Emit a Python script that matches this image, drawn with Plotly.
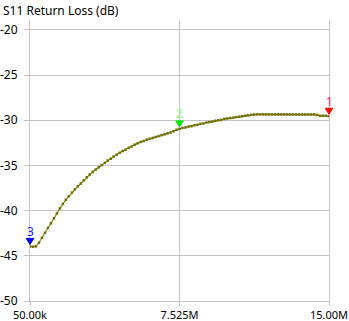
import plotly.graph_objects as go

# Frequency sweep (MHz): 101 points from 0.05 to 15.0
f_start = 0.05
f_stop = 15.0
n_pts = 101
freq = [f_start + i * (f_stop - f_start) / (n_pts - 1) for i in range(n_pts)]

s11_db = [
    -43.96, -44.00, -43.95, -43.55, -43.00, -42.45, -41.90, -41.40, -40.85, -40.30,
    -39.75, -39.25, -38.80, -38.40, -38.00, -37.65, -37.30, -37.00, -36.65, -36.30,
    -36.00, -35.70, -35.45, -35.20, -34.95, -34.70, -34.45, -34.25, -34.00, -33.80,
    -33.60, -33.40, -33.25, -33.05, -32.90, -32.70, -32.55, -32.40, -32.30, -32.15,
    -32.05, -31.95, -31.85, -31.75, -31.65, -31.55, -31.45, -31.35, -31.20, -31.05,
    -30.95, -30.85, -30.80, -30.70, -30.65, -30.55, -30.50, -30.40, -30.35, -30.25,
    -30.20, -30.15, -30.05, -30.00, -29.95, -29.85, -29.80, -29.75, -29.70, -29.65,
    -29.60, -29.55, -29.50, -29.45, -29.40, -29.35, -29.35, -29.35, -29.35, -29.35,
    -29.35, -29.35, -29.35, -29.35, -29.35, -29.35, -29.35, -29.35, -29.35, -29.35,
    -29.35, -29.35, -29.35, -29.35, -29.35, -29.35, -29.40, -29.50, -29.50, -29.50,
    -29.55,
]

x_tickvals = [0.05, 7.525, 15.0]
x_ticktext = ["50.00k", "7.525M", "15.00M"]
y_tickvals = [-50, -45, -40, -35, -30, -25, -20]
y_ticktext = ["-50", "-45", "-40", "-35", "-30", "-25", "-20"]
y_range = [-50, -18.9]

marker_names = ["1", "2", "3"]
marker_index = [100, 50, 0]
marker_tri_colors = ["#ff0000", "#00ee00", "#0000ff"]
marker_label_colors = ["#ff2040", "#80ff80", "#2020ff"]

title_text = "S11 Return Loss (dB)"

FONT = "Noto Sans"
GRID = "#c4c4c4"
TRACE = "#808000"

fig = go.Figure()
fig.add_trace(go.Scatter(
    x=freq, y=s11_db, mode="lines+markers",
    line=dict(color=TRACE, width=1.1),
    marker=dict(symbol="square", size=2.5, color="#6e6e00"),
    hoverinfo="skip", showlegend=False,
))

shapes = []
annotations = []
for name, idx, tc, lc in zip(marker_names, marker_index, marker_tri_colors, marker_label_colors):
    # paper-referenced anchor (unclipped), derived from the data via the axis ranges
    px = (freq[idx] - f_start) / (f_stop - f_start)
    py = (s11_db[idx] - y_range[0]) / (y_range[1] - y_range[0])
    shapes.append(dict(
        type="path", xref="paper", yref="paper",
        xsizemode="pixel", ysizemode="pixel",
        xanchor=px, yanchor=py,
        path="M -3.8,8 L 3.8,8 L 0,2 Z",
        fillcolor=tc, line=dict(color=tc, width=1),
    ))
    annotations.append(dict(
        x=freq[idx], y=s11_db[idx], xref="x", yref="y",
        text=name, showarrow=False, yshift=15,
        font=dict(family=FONT, size=12, color=lc),
    ))

fig.update_layout(
    width=349, height=321,
    margin=dict(l=30, r=20, t=20, b=20, autoexpand=False),
    paper_bgcolor="white", plot_bgcolor="white",
    font=dict(family=FONT, size=12, color="#000000"),
    title=dict(text=title_text, x=3 / 349, xanchor="left", xref="container",
               y=1 - 11 / 321, yanchor="middle", yref="container",
               font=dict(family=FONT, size=12, color="#000000")),
    shapes=shapes,
    annotations=annotations,
)
fig.update_xaxes(
    range=[f_start, f_stop], tickvals=x_tickvals, ticktext=x_ticktext,
    showgrid=True, gridcolor=GRID, gridwidth=1,
    showline=True, linecolor=GRID, linewidth=1,
    ticks="outside", ticklen=4, tickcolor=GRID, automargin=False,
    zeroline=False, tickfont=dict(family=FONT, size=11),
)
fig.update_yaxes(
    range=y_range, tickvals=y_tickvals, ticktext=y_ticktext,
    showgrid=True, gridcolor=GRID, gridwidth=1,
    showline=True, linecolor=GRID, linewidth=1, mirror=True,
    ticks="outside", ticklen=5, tickcolor=GRID, automargin=False,
    ticklabelstandoff=4,
    zeroline=False, tickfont=dict(family=FONT, size=12),
)

fig.write_html("out.html")
